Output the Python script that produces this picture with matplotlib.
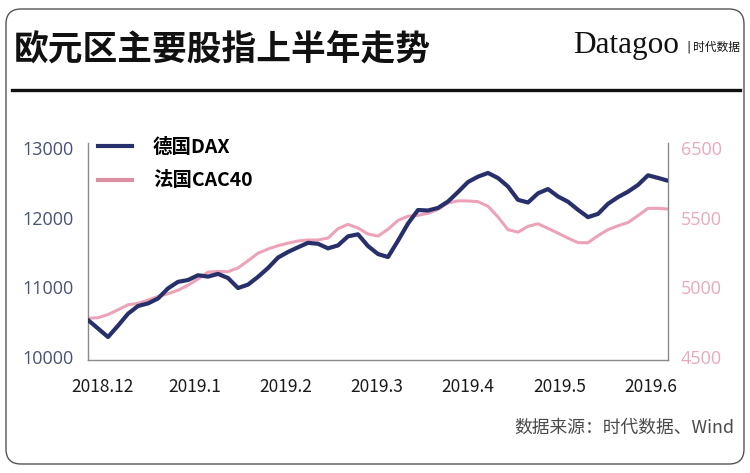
import numpy as np
import matplotlib
matplotlib.use("Agg")
import matplotlib.pyplot as plt
from matplotlib.patches import FancyBboxPatch
from matplotlib.lines import Line2D

plt.rcParams['font.family'] = ['Noto Sans CJK SC', 'DejaVu Sans']

# ---- data (evenly spaced samples) ----
dax = [10531, 10410, 10287, 10449, 10621, 10732, 10769, 10840, 10985, 11079,
       11105, 11174, 11154, 11193, 11134, 10990, 11039, 11150, 11277, 11427,
       11508, 11575, 11639, 11625, 11560, 11602, 11732, 11761, 11593, 11478,
       11435, 11669, 11916, 12110, 12103, 12140, 12232, 12368, 12512, 12589,
       12642, 12569, 12447, 12256, 12218, 12350, 12411, 12304, 12229, 12113,
       12008, 12054, 12199, 12295, 12373, 12470, 12608, 12571, 12530]
cac40 = [4778, 4782, 4805, 4839, 4875, 4885, 4909, 4934, 4954, 4979,
         5015, 5060, 5109, 5114, 5112, 5139, 5191, 5245, 5275, 5299,
         5317, 5333, 5340, 5340, 5354, 5421, 5452, 5426, 5383, 5368,
         5417, 5480, 5511, 5517, 5531, 5559, 5605, 5621, 5620, 5615,
         5582, 5505, 5414, 5396, 5438, 5456, 5423, 5389, 5353, 5321,
         5320, 5371, 5414, 5442, 5465, 5515, 5567, 5567, 5562]
month_labels = ['2018.12', '2019.1', '2019.2', '2019.3', '2019.4', '2019.5', '2019.6']
left_ticks = [10000, 11000, 12000, 13000]
right_ticks = [4500, 5000, 5500, 6000]
right_tick_labels = ['4500', '5000', '5500', '6500']
series_names = ['德国DAX', '法国CAC40']

NAVY = '#27306b'
PINK = '#eca3b7'
PINK_LEG = '#dc8ea3'

W, H = 750, 473
fig = plt.figure(figsize=(W / 100, H / 100), dpi=100)
fig.patch.set_facecolor('white')

# card border
card = FancyBboxPatch((0.06, 0.09), 7.38, 4.55,
                      boxstyle="round,pad=0,rounding_size=0.15",
                      transform=fig.dpi_scale_trans, facecolor='none',
                      edgecolor='#555555', linewidth=1.0, zorder=-10)
fig.patches.append(card)

# title
fig.text(14 / W, 1 - 50 / H, '欧元区主要股指上半年走势', fontsize=25, fontweight='bold',
         color='#111111', ha='left', va='center')
# logo
fig.text(573 / W, 1 - 45 / H, 'Datagoo', fontsize=22.5, family='Liberation Serif',
         color='#111111', ha='left', va='center')
fig.text(686 / W, 1 - 47 / H, '|', fontsize=9, color='#111111', ha='left', va='center',
         family='DejaVu Sans')
fig.text(740 / W, 1 - 47 / H, '时代数据', fontsize=8.5, color='#111111', ha='right', va='center')
# separator line
fig.add_artist(Line2D([12 / W, 740 / W], [1 - 90 / H, 1 - 90 / H], color='#111111',
                      linewidth=2.4, transform=fig.transFigure))

# axes
x0, x1, ytop, ybot = 88, 668, 143, 360
ax = fig.add_axes([x0 / W, 1 - ybot / H, (x1 - x0) / W, (ybot - ytop) / H])
ax2 = ax.twinx()

n = len(dax)
idx = np.arange(n)
px_per_sample = (x1 - x0) / (n - 1)
first_tick = (103 - x0) / px_per_sample
month_len = 91.3 / px_per_sample

ax.plot(idx, dax, color=NAVY, linewidth=3.0, solid_capstyle='round', zorder=3)
ax2.plot(idx, cac40, color=PINK, linewidth=2.2, solid_capstyle='round', zorder=2)

ax.set_zorder(ax2.get_zorder() + 1)
ax.patch.set_visible(False)

lo, hi = 9957, 13072
ax.set_ylim(lo, hi)
ax2.set_ylim(4500 + (lo - 10000) / 2, 4500 + (hi - 10000) / 2)
ax.set_xlim(0, n - 1)

ax.set_yticks(left_ticks)
ax.set_yticklabels([str(t) for t in left_ticks])
ax2.set_yticks(right_ticks)
ax2.set_yticklabels(right_tick_labels)
ax.set_xticks([first_tick + k * month_len for k in range(len(month_labels))])
ax.set_xticklabels(month_labels)

for a in (ax, ax2):
    a.spines['top'].set_visible(False)
    for s in ('left', 'right', 'bottom'):
        a.spines[s].set_color('#8a8a8a')
        a.spines[s].set_linewidth(1.0)
ax.spines['right'].set_visible(False)
ax2.spines['left'].set_visible(False)
ax2.spines['bottom'].set_visible(False)

ax.tick_params(axis='y', length=0, pad=10, labelsize=13, labelcolor='#4b5278')
ax.tick_params(axis='x', length=0, pad=13, labelsize=12.5, labelcolor='#1a1a1a')
ax2.tick_params(axis='y', length=0, pad=9, labelsize=13, labelcolor='#e8aabb')
for lab in ax.get_yticklabels() + ax2.get_yticklabels():
    lab.set_family(['Open Sans', 'DejaVu Sans'])

# legend
handles = [Line2D([], [], color=NAVY, linewidth=3.0),
           Line2D([], [], color=PINK_LEG, linewidth=3.0)]
leg = ax.legend(handles, series_names, loc='upper left',
                bbox_to_anchor=((80 - x0) / (x1 - x0), 1.105), frameon=False,
                handlelength=1.75, handletextpad=1.1, labelspacing=0.75,
                prop={'size': 14, 'weight': 'bold'})

# source
fig.text(734 / W, 1 - 428 / H, '数据来源：时代数据、Wind', fontsize=12.8, color='#4a4a4a',
         ha='right', va='center')

fig.savefig('out.png', dpi=100, facecolor='white')
